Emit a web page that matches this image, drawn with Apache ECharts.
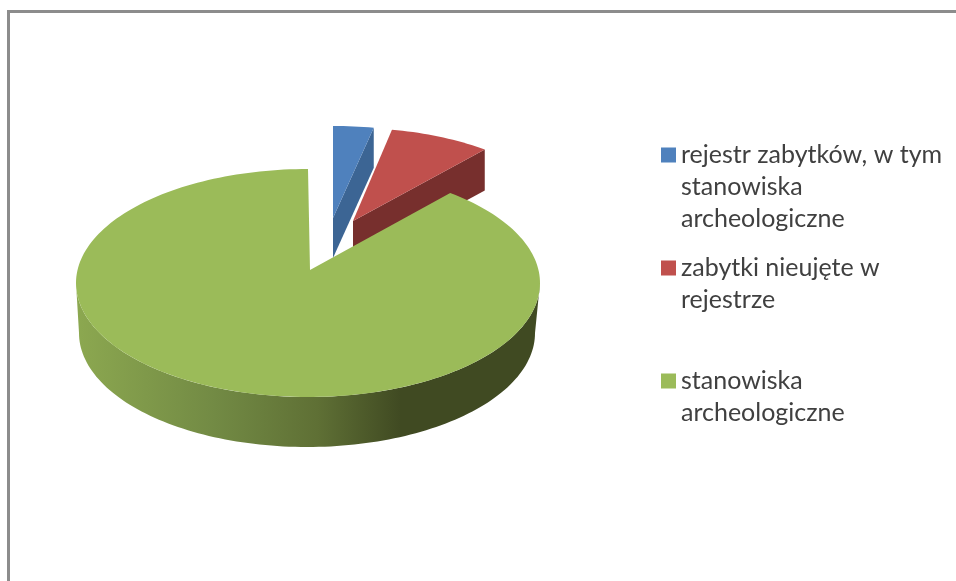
<!DOCTYPE html>
<html><head><meta charset="utf-8">
<style>html,body{margin:0;padding:0;background:#fff}#c{width:956px;height:581px}</style>
<script src="https://cdn.jsdelivr.net/npm/echarts@6/dist/echarts.min.js"></script>
</head><body><div id="c"></div>
<script>
const categories = ['rejestr zabytków, w tym stanowiska archeologiczne', 'zabytki nieujęte w rejestrze', 'stanowiska archeologiczne'];
const legendLabels = ['rejestr zabytków, w tym\nstanowiska\narcheologiczne', 'zabytki nieujęte w\nrejestrze', 'stanowiska\narcheologiczne'];
const values = [2.9, 7.6, 89.5];

const total = values.reduce((a, b) => a + b, 0);
const sliceColors = [
  { top: '#4f81bd', cut: '#3c6594' },
  { top: '#c0504d', cut: '#772f2d' },
  { top: '#9bbb59' }
];
// exploded, perspective-squashed placement of each slice
const placement = [
  { cx: 333, cy: 231, rx: 225, ry: 105, tipX: 333, tipY: 218, depth: 40, z: 1 },
  { cx: 353, cy: 231, rx: 215, ry: 103, tipX: 353, tipY: 221, depth: 41, z: 2 },
  { cx: 308, cy: 283, rx: 232, ry: 114, tipX: 310, tipY: 270, z: 3,
    wall: { cx: 307, cy: 333, rx: 228, ry: 114 } }
];
function pt(g, deg) {
  const t = deg * Math.PI / 180;
  return [g.cx + g.rx * Math.sin(t), g.cy - g.ry * Math.cos(t)];
}
function arc(g, a0, a1) {
  const n = Math.max(8, Math.ceil(Math.abs(a1 - a0) / 1.5)), out = [];
  for (let i = 0; i <= n; i++) out.push(pt(g, a0 + (a1 - a0) * i / n));
  return out;
}
function makeRender(idx) {
  return function (params, api) {
    const before = values.slice(0, idx).reduce((a, b) => a + b, 0);
    const a0 = before / total * 360;
    const a1 = a0 + api.value(0) / total * 360;
    const g = placement[idx], col = sliceColors[idx], children = [];
    if (g.wall) {
      const upper = arc(g, 90, 270);
      const lower = arc(g.wall, 270, 90);
      children.push({
        type: 'polygon',
        shape: { points: upper.concat(lower) },
        style: { fill: { type: 'linear', x: 0, y: 0, x2: 1, y2: 0, colorStops: [
          { offset: 0, color: '#8ca850' }, { offset: 0.3, color: '#728a44' },
          { offset: 0.52, color: '#5f7035' }, { offset: 0.7, color: '#404a22' },
          { offset: 1, color: '#404a22' }] } }
      });
    } else {
      const e = pt(g, a1);
      children.push({
        type: 'polygon',
        shape: { points: [e, [g.tipX, g.tipY], [g.tipX, g.tipY + g.depth], [e[0], e[1] + g.depth]] },
        style: { fill: col.cut }
      });
    }
    children.push({
      type: 'polygon',
      shape: { points: [[g.tipX, g.tipY]].concat(arc(g, a0, a1)) },
      style: { fill: col.top }
    });
    return { type: 'group', children };
  };
}
const legendTops = [139, 252, 365];
const LINE = 32, ICON = 15;
const option = {
  animation: false,
  backgroundColor: '#fff',
  graphic: [{
    type: 'polyline', silent: true,
    shape: { points: [[8.5, 600], [8.5, 11.5], [960, 11.5]] },
    style: { stroke: '#8c8c8c', lineWidth: 3, fill: null }
  }],
  legend: values.map((v, i) => {
    const extra = (legendLabels[i].split('\n').length - 1) * LINE;
    return {
      data: [categories[i]],
      orient: 'vertical', left: 661, top: legendTops[i],
      itemWidth: ICON, itemHeight: ICON + extra, itemGap: 0, padding: 0,
      selectedMode: false,
      // square sits at the top of a tall icon box, level with the first text line
      icon: `path://M0 0H${ICON}V${ICON}H0Z M0 ${ICON + extra}Z`,
      formatter: () => legendLabels[i],
      textStyle: { fontFamily: 'Lato', fontSize: 25, lineHeight: LINE, color: '#404040' }
    };
  }),
  series: values.map((v, i) => ({
    type: 'custom',
    name: categories[i],
    coordinateSystem: 'none',
    z: placement[i].z,
    silent: true,
    itemStyle: { color: sliceColors[i].top },
    data: [[v]],
    renderItem: makeRender(i)
  }))
};
echarts.init(document.getElementById('c'), null, { renderer: 'canvas' }).setOption(option);
</script></body></html>
